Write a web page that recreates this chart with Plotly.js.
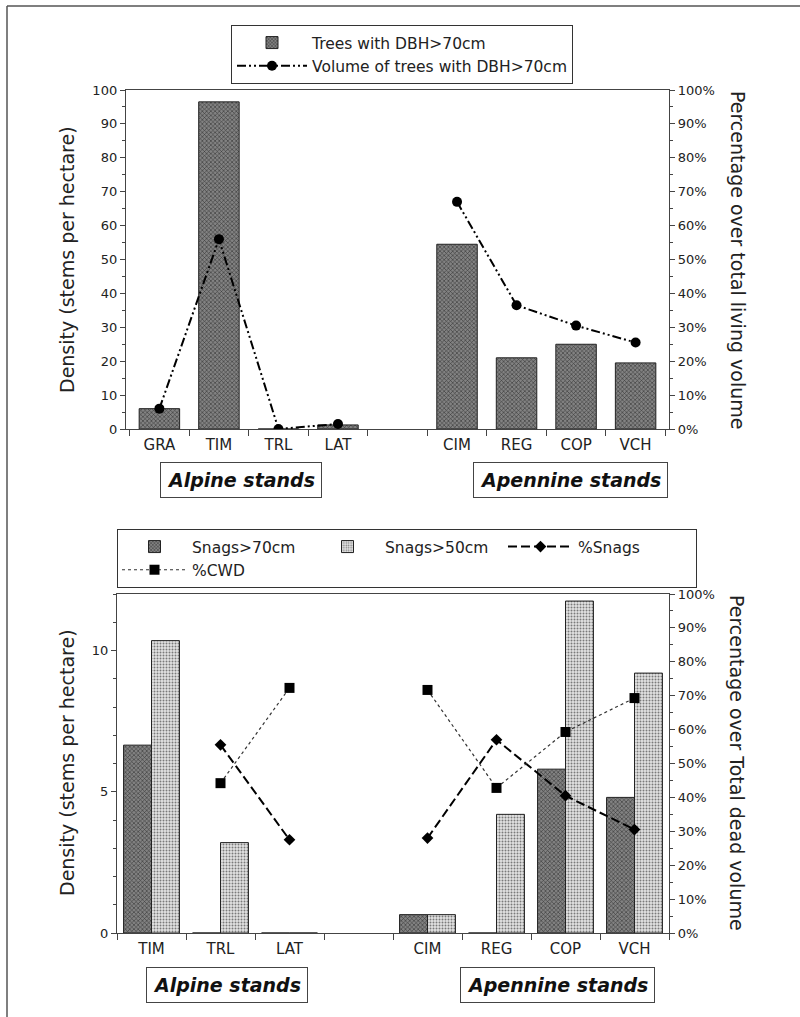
<!DOCTYPE html>
<html><head><meta charset="utf-8">
<script src="https://cdn.plot.ly/plotly-3.0.1.min.js"></script>
<style>html,body{margin:0;padding:0;background:#fff}</style>
</head><body><div id="chart" style="width:800px;height:1017px"></div>
<script>
// ---- data: living trees (upper panel) ----
const liveCategories = ['GRA','TIM','TRL','LAT',' ','CIM','REG','COP','VCH'];
const liveDensity    = [6, 96.5, 0, 1.2, null, 54.5, 21, 25, 19.5];
const liveVolumePct  = [6, 56, 0, 1.5, null, 67, 36.5, 30.5, 25.5];

// ---- data: dead wood (lower panel) ----
const deadCategories = ['TIM','TRL','LAT',' ','CIM','REG','COP','VCH'];
const snags70  = [6.65, 0, 0, null, 0.65, 0, 5.8, 4.8];
const snags50  = [10.35, 3.2, 0, null, 0.65, 4.2, 11.75, 9.2];
const pctSnags = [null, 55.5, 27.5, null, 28, 57, 40.5, 30.5];
const pctCWD   = [null, 44.2, 72.3, null, 71.7, 42.8, 59.3, 69.3];

const W = 800, H = 1017;
const px = x => x / W;
const py = y => 1 - y / H;
const AX = '#444';

const darkPattern  = {shape: 'x', bgcolor: '#828282', fgcolor: '#363636', size: 3, solidity: 0.35};
const lightPattern = {shape: '.', bgcolor: '#e4e4e4', fgcolor: '#7a7a7a', size: 3, solidity: 0.35};

const traces = [
  {type: 'bar', x: liveCategories, y: liveDensity, xaxis: 'x', yaxis: 'y', width: 0.68,
   name: 'Trees with DBH>70cm', legend: 'legend',
   marker: {color: '#828282', pattern: darkPattern, line: {color: '#222', width: 1}}},
  {type: 'scatter', mode: 'lines+markers', x: liveCategories, y: liveVolumePct, xaxis: 'x', yaxis: 'y2',
   name: 'Volume of trees with DBH>70cm', legend: 'legend', connectgaps: false,
   line: {color: '#000', width: 2, dash: '9px,3px,2px,3px,2px,3px'},
   marker: {symbol: 'circle', size: 10, color: '#000'}},
  {type: 'bar', x: deadCategories, y: snags70, xaxis: 'x2', yaxis: 'y3',
   name: 'Snags>70cm', legend: 'legend2', legendgroup: 'a',
   marker: {color: '#828282', pattern: darkPattern, line: {color: '#222', width: 1}}},
  {type: 'bar', x: deadCategories, y: snags50, xaxis: 'x2', yaxis: 'y3',
   name: 'Snags>50cm', legend: 'legend2', legendgroup: 'b',
   marker: {color: '#e4e4e4', pattern: lightPattern, line: {color: '#222', width: 1}}},
  {type: 'scatter', mode: 'lines+markers', x: deadCategories, y: pctSnags, xaxis: 'x2', yaxis: 'y4',
   name: '%Snags', legend: 'legend2', legendgroup: 'c', connectgaps: false,
   line: {color: '#000', width: 2, dash: '9px,4px'},
   marker: {symbol: 'diamond', size: 9, color: '#000'}},
  {type: 'scatter', mode: 'lines+markers', x: deadCategories, y: pctCWD, xaxis: 'x2', yaxis: 'y4',
   name: '%CWD', legend: 'legend2', legendgroup: 'a', connectgaps: false,
   line: {color: '#333', width: 1.2, dash: 'dot'},
   marker: {symbol: 'square', size: 10, color: '#000'}}
];

const xBase = {type: 'category', categoryorder: 'array', tickson: 'boundaries', ticks: 'outside',
  ticklen: 6, tickcolor: AX, showline: true, linecolor: AX, linewidth: 1.2, mirror: true,
  showgrid: false, zeroline: false, tickfont: {size: 15, color: '#222'}, ticklabelstandoff: 2, fixedrange: true};
const yBase = {ticks: 'outside', ticklen: 5, tickcolor: AX, showline: true, linecolor: AX, linewidth: 1.2,
  showgrid: false, zeroline: false, tickfont: {size: 13, color: '#222'}, fixedrange: true};

function boxLabel(text, x, y) {
  return {text: '<b><i>' + text + '</i></b>', xref: 'paper', yref: 'paper', x: px(x), y: py(y),
    xanchor: 'center', yanchor: 'middle', showarrow: false,
    font: {size: 19, color: '#111'}, bordercolor: '#444', borderwidth: 1, borderpad: 6, bgcolor: '#fff'};
}
function axisTitle(text, x, y, angle) {
  return {text: text, xref: 'paper', yref: 'paper', x: px(x), y: py(y), xanchor: 'center', yanchor: 'middle',
    textangle: angle, showarrow: false, font: {size: 19, color: '#222'}};
}

const layout = {
  width: W, height: H, margin: {l: 0, r: 0, t: 0, b: 0},
  paper_bgcolor: '#fff', plot_bgcolor: '#fff',
  font: {family: 'DejaVu Sans', color: '#222'},
  barmode: 'group', bargap: 0.19, bargroupgap: 0,
  xaxis: Object.assign({}, xBase, {domain: [px(126), px(669)], anchor: 'y', categoryarray: liveCategories}),
  yaxis: Object.assign({}, yBase, {domain: [py(429), py(90)], anchor: 'x', range: [0, 100], dtick: 10,
    minor: {ticks: 'outside', dtick: 5, ticklen: 3, tickcolor: AX}}),
  yaxis2: Object.assign({}, yBase, {overlaying: 'y', side: 'right', anchor: 'x', range: [0, 100], dtick: 10,
    ticksuffix: '%', minor: {ticks: 'outside', dtick: 5, ticklen: 3, tickcolor: AX}}),
  xaxis2: Object.assign({}, xBase, {domain: [px(117), px(669)], anchor: 'y3', categoryarray: deadCategories}),
  yaxis3: Object.assign({}, yBase, {domain: [py(933), py(594)], anchor: 'x2', range: [0, 12], dtick: 5,
    minor: {ticks: 'outside', dtick: 1, ticklen: 3, tickcolor: AX}}),
  yaxis4: Object.assign({}, yBase, {overlaying: 'y3', side: 'right', anchor: 'x2', range: [0, 100], dtick: 10,
    ticksuffix: '%', minor: {ticks: 'outside', dtick: 5, ticklen: 3, tickcolor: AX}}),
  showlegend: true,
  legend: {x: px(231), y: py(25), xanchor: 'left', yanchor: 'top', orientation: 'v',
    bordercolor: '#333', borderwidth: 1, bgcolor: '#fff', font: {size: 15.5, color: '#222'},
    itemwidth: 70, tracegroupgap: 0},
  legend2: {x: px(117), y: py(529), xanchor: 'left', yanchor: 'top', orientation: 'h',
    traceorder: 'grouped', bordercolor: '#333', borderwidth: 1, bgcolor: '#fff',
    font: {size: 15.5, color: '#222'}, itemwidth: 65, entrywidth: 113, tracegroupgap: 0},
  shapes: [
    {type: 'line', xref: 'paper', yref: 'paper', x0: px(7), x1: px(7), y0: 0, y1: py(6), line: {color: '#555', width: 1.5}},
    {type: 'line', xref: 'paper', yref: 'paper', x0: px(7), x1: 1, y0: py(6), y1: py(6), line: {color: '#555', width: 1.5}}
  ],
  annotations: [
    axisTitle('Density (stems per hectare)', 67, 260, -90),
    axisTitle('Percentage over total living volume', 738, 260, 90),
    axisTitle('Density (stems per hectare)', 67, 763, -90),
    axisTitle('Percentage over Total dead volume', 737, 763, 90),
    boxLabel('Alpine stands', 241, 480),
    boxLabel('Apennine stands', 570, 480),
    boxLabel('Alpine stands', 227, 985),
    boxLabel('Apennine stands', 557, 985)
  ]
};

Plotly.newPlot('chart', traces, layout, {displayModeBar: false, staticPlot: true});
</script>
</body></html>
